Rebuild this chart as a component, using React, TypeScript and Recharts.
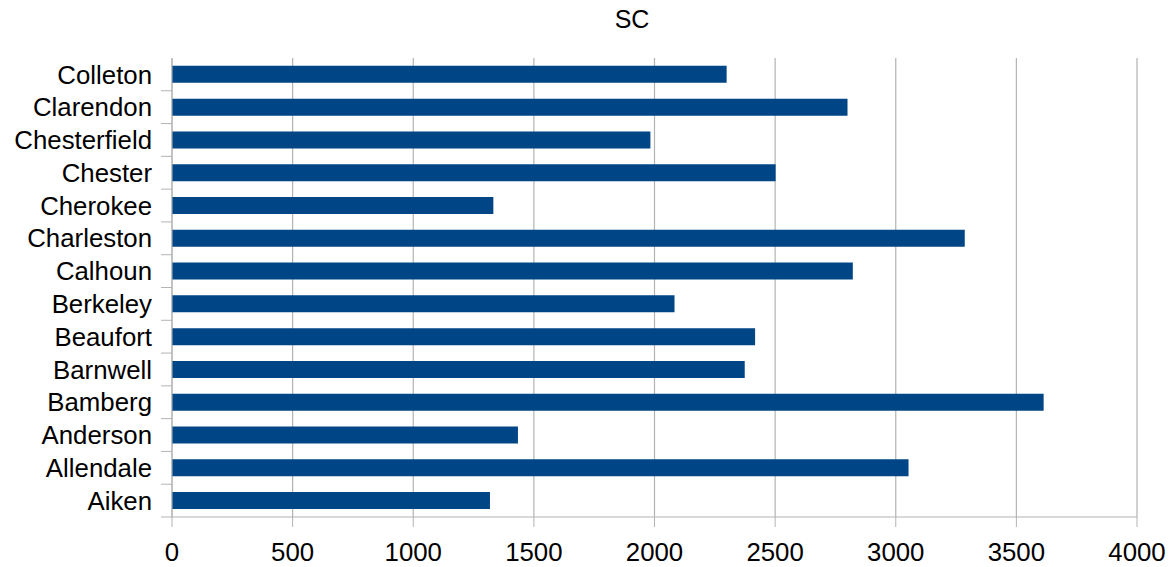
import { BarChart, Bar, XAxis, YAxis, CartesianGrid } from "recharts";

const counties = [
    "Aiken", "Allendale", "Anderson", "Bamberg", "Barnwell", "Beaufort", "Berkeley",
    "Calhoun", "Charleston", "Cherokee", "Chester", "Chesterfield", "Clarendon", "Colleton",
];
const values = [1318, 3053, 1434, 3613, 2374, 2417, 2083, 2822, 3286, 1332, 2502, 1983, 2800, 2299];
const xTicks = [0, 500, 1000, 1500, 2000, 2500, 3000, 3500, 4000];

const data = counties.map((name, i) => ({ name, value: values[i] }));

const FONT = "'Liberation Sans', Arial, sans-serif";
const TICK_SIZE = 11;
const TICK_MARGIN = 9;

function CountyTick(props: any) {
    const { x, y, payload } = props;
    const half = payload?.offset ?? 16.4;
    const axisX = x + TICK_SIZE + TICK_MARGIN;
    return (
        <g>
            <line x1={axisX - TICK_SIZE} x2={axisX} y1={y + half} y2={y + half} stroke="#b3b3b3" />
            <text x={x} y={y} dy="0.355em" textAnchor="end" fontSize={25.8} fontFamily={FONT} fill="#000">
                {payload.value}
            </text>
        </g>
    );
}

export default function App() {
    return (
        <div style={{ position: "absolute", left: 0, top: 0, width: 1169, height: 567, background: "#fff" }}>
            <div style={{ position: "absolute", left: 632, top: 5, transform: "translateX(-50%)", fontFamily: FONT, fontSize: 25, color: "#000" }}>
                SC
            </div>
            <BarChart width={1169} height={567} data={data} layout="vertical"
                margin={{ top: 58, right: 32, bottom: 20, left: 0 }} barCategoryGap="24%">
                <CartesianGrid horizontal={false} stroke="#b3b3b3" strokeWidth={1.2} />
                <XAxis type="number" domain={[0, 4000]} ticks={xTicks} interval={0}
                    stroke="#b3b3b3" tickSize={10} tickMargin={16} height={30}
                    tick={{ fill: "#000", fontSize: 25.8, fontFamily: FONT }} />
                <YAxis type="category" dataKey="name" reversed width={172} interval={0}
                    stroke="#b3b3b3" tickLine={false} tickSize={TICK_SIZE} tickMargin={TICK_MARGIN}
                    tick={<CountyTick />} />
                <Bar dataKey="value" fill="#004586" isAnimationActive={false} />
            </BarChart>
        </div>
    );
}
